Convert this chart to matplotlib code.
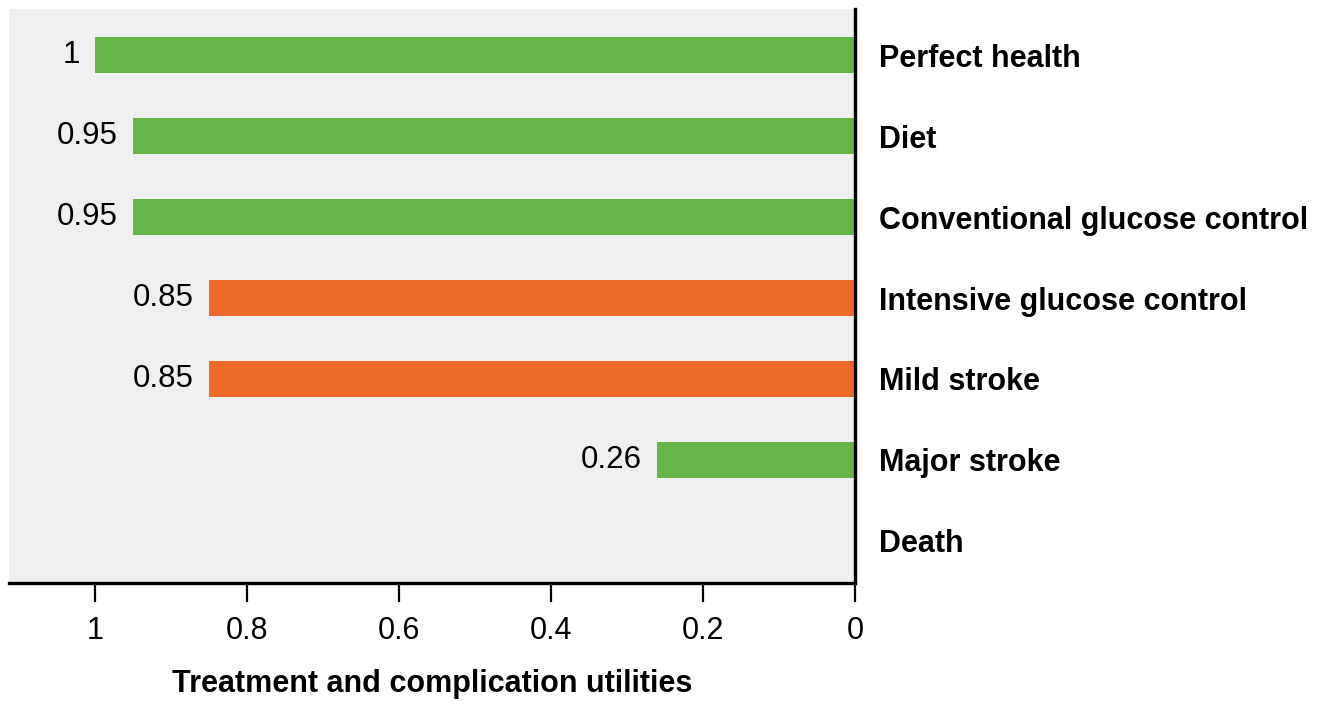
import matplotlib.pyplot as plt

plt.rcParams['font.family'] = ['Liberation Sans', 'DejaVu Sans']

# data
categories = ['Perfect health', 'Diet', 'Conventional glucose control',
              'Intensive glucose control', 'Mild stroke', 'Major stroke', 'Death']
utilities = [1, 0.95, 0.95, 0.85, 0.85, 0.26, 0]
value_labels = ['1', '0.95', '0.95', '0.85', '0.85', '0.26', '']
bar_groups = ['green', 'green', 'green', 'orange', 'orange', 'green', 'green']
xticks = [1, 0.8, 0.6, 0.4, 0.2, 0]
xtick_labels = ['1', '0.8', '0.6', '0.4', '0.2', '0']

palette = {'green': '#66b447', 'orange': '#ec6a2a'}

fig = plt.figure(figsize=(13.27, 7.04), dpi=100)
ax = fig.add_axes([9 / 1327, 1 - 583 / 704, 846 / 1327, 574 / 704])
ax.set_facecolor('#efefef')

ypos = list(range(len(categories)))
ax.barh(ypos, utilities, height=0.44, color=[palette[g] for g in bar_groups])

for y, v, lab in zip(ypos, utilities, value_labels):
    if lab:
        ax.text(v + 0.02, y, lab, ha='right', va='center', fontsize=22.5, color='black')

ax.set_xlim(1.113, 0)
ax.set_ylim(len(categories) - 1 + 0.52, -0.57)

ax.yaxis.tick_right()
ax.set_yticks(ypos)
ax.set_yticklabels(categories, fontsize=22, fontweight='bold')
ax.tick_params(axis='y', length=0, pad=17)

ax.set_xticks(xticks)
ax.set_xticklabels(xtick_labels, fontsize=22)
ax.tick_params(axis='x', length=14, width=1.6, pad=10)

ax.set_xlabel('Treatment and complication utilities', fontsize=22, fontweight='bold', labelpad=16)

for side in ['top', 'left']:
    ax.spines[side].set_visible(False)
for side in ['bottom', 'right']:
    ax.spines[side].set_linewidth(2.4)

fig.savefig('out.png', dpi=100)
